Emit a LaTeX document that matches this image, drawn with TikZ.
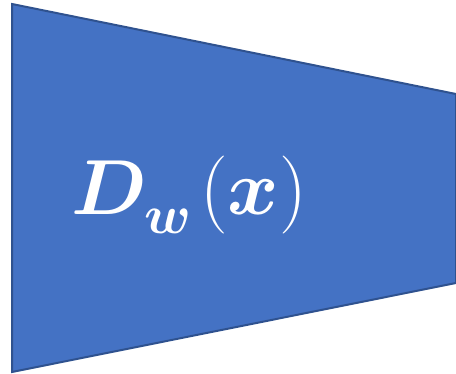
\documentclass[tikz,border=0pt]{standalone}
\usepackage{fix-cm}
\usepackage{amsmath}
\usepackage{bm}
\usepackage{tikz}
\definecolor{dscfill}{HTML}{4472C4}
\definecolor{dscedge}{HTML}{2F528F}

\begin{document}
\begin{tikzpicture}[x=1pt, y=-1pt,
    disc/.style={draw=dscedge, fill=dscfill, line width=2pt, line join=miter},
    label/.style={text=white, inner sep=0pt, font=\fontsize{78}{82}\selectfont}]
    \useasboundingbox (0,0) rectangle (456,374);

    \coordinate (tl) at (12,4);
    \coordinate (bl) at (12,372);
    \coordinate (tr) at (456,94);
    \coordinate (br) at (456,283);

    \path [disc] (tl) -- (tr) -- (br) -- (bl) -- cycle;

    % subscript set a bit lower, as in the reference
    \node [label, anchor=base] (dw) at (189,215)
        {$\bm{D}_{\raisebox{-7pt}{$\scriptstyle\bm{w}$}}\mkern2mu(\bm{x})$};

\end{tikzpicture}
\end{document}
